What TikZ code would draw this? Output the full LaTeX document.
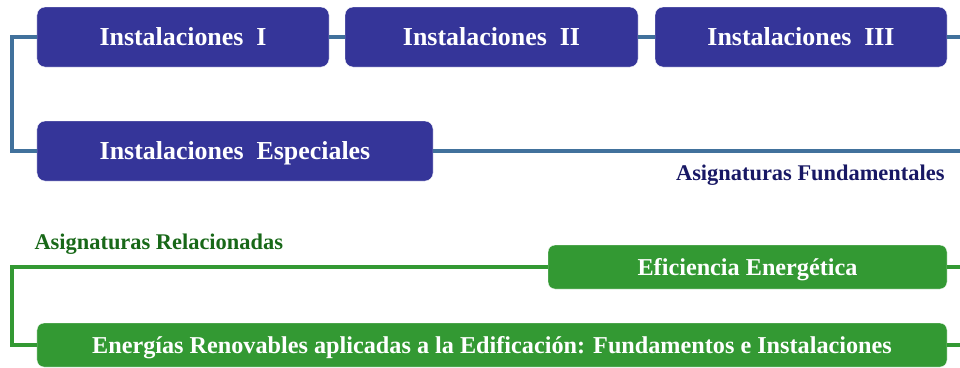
\documentclass[tikz,border=0pt]{standalone}
\usepackage{fontspec}
\setmainfont{Liberation Serif}
\usetikzlibrary{positioning}
\definecolor{coursenavy}{RGB}{53, 53, 153}
\definecolor{linkblue}{RGB}{65, 113, 156}
\definecolor{coursegreen}{RGB}{51, 153, 51}
\definecolor{labelnavy}{RGB}{24, 24, 100}
\definecolor{labelgreen}{RGB}{24, 104, 24}

\begin{document}
\begin{tikzpicture}[
  x=1bp, y=-1bp,
  font=\bfseries,
  fundbox/.style={
    draw=white,
    fill=coursenavy,
    text=white,
    rounded corners=8bp,
    minimum height=60bp,
    inner sep=0pt,
    text depth=0pt,
    font=\bfseries\fontsize{26}{30}\selectfont,
  },
  relbox/.style={
    draw=white,
    fill=coursegreen,
    text=white,
    rounded corners=7bp,
    minimum height=44bp,
    inner sep=0pt,
    text depth=0pt,
    font=\bfseries\fontsize{24.3}{28}\selectfont,
  },
  bluelink/.style={draw=linkblue, line width=4bp},
  greenlink/.style={draw=coursegreen, line width=4bp},
]
  \useasboundingbox (0,0) rectangle (960,367);

  % Asignaturas fundamentales
  \coordinate (blue-left) at (12,37);
  \coordinate (blue-end) at (960,151);
  \node[fundbox, minimum width=292bp] (inst1) at (183,37) {Instalaciones\ \ I};
  \node[fundbox, minimum width=293bp] (inst2) at (491.5,37) {Instalaciones\ \ II};
  \node[fundbox, minimum width=292bp] (inst3) at (801,37) {Instalaciones\ \ III};
  \node[fundbox, minimum width=396bp] (instesp) at (235,151) {Instalaciones\ \ Especiales};
  \draw[bluelink] (inst1.west) -- (blue-left) |- (instesp.west);
  \draw[bluelink] (inst1.east) -- (inst2.west);
  \draw[bluelink] (inst2.east) -- (inst3.west);
  \draw[bluelink] (inst3.east) -- (inst3.east -| blue-end);
  \draw[bluelink] (instesp.east) -- (blue-end);
  \node[text=labelnavy, anchor=east, font=\bfseries\fontsize{22.5}{26}\selectfont] (fund-label) at (948,175) {Asignaturas Fundamentales};

  % Asignaturas relacionadas
  \coordinate (green-left) at (12,267);
  \coordinate (green-end) at (960,345);
  \node[text=labelgreen, anchor=west, font=\bfseries\fontsize{22.5}{26}\selectfont] (rel-label) at (31,244) {Asignaturas Relacionadas};
  \node[relbox, minimum width=399bp] (eficiencia) at (747.5,267) {Eficiencia Energética};
  \node[relbox, minimum width=910bp] (renovables) at (492,345) {Energías Renovables aplicadas a la Edificación: Fundamentos e Instalaciones};
  \draw[greenlink] (eficiencia.west) -- (green-left) |- (renovables.west);
  \draw[greenlink] (eficiencia.east) -- (eficiencia.east -| green-end);
  \draw[greenlink] (renovables.east) -- (green-end);
\end{tikzpicture}
\end{document}
